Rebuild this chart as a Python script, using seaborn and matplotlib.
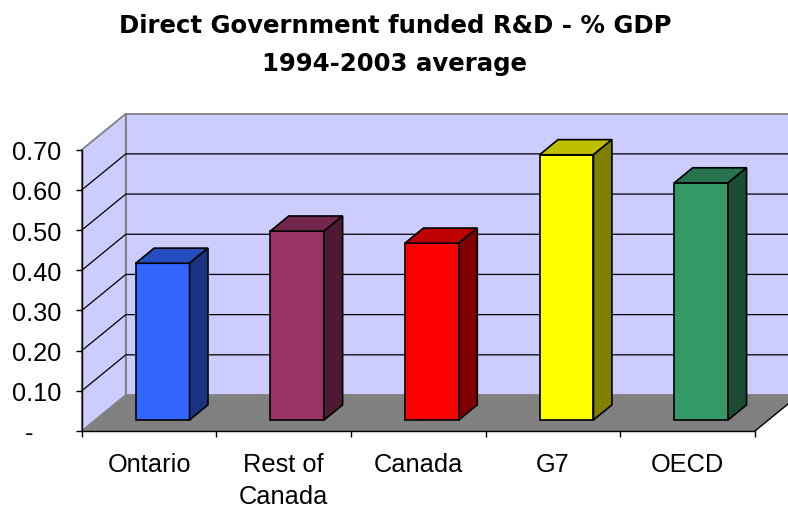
import matplotlib
matplotlib.use("Agg")
import matplotlib.pyplot as plt
from matplotlib.patches import Polygon
from matplotlib.transforms import Affine2D
from matplotlib.colors import to_rgb
import seaborn as sns
import pandas as pd

# ---- data ----
categories = ["Ontario", "Rest of\nCanada", "Canada", "G7", "OECD"]
values = [0.39, 0.47, 0.44, 0.66, 0.59]
front_colors = ["#3366FF", "#993366", "#FF0000", "#FFFF00", "#339966"]
y_ticks = [0.0, 0.1, 0.2, 0.3, 0.4, 0.5, 0.6, 0.7]
y_tick_labels = ["-    ", "0.10", "0.20", "0.30", "0.40", "0.50", "0.60", "0.70"]
title_lines = ["Direct Government funded R&D - % GDP", "1994-2003 average"]

plt.rcParams["font.family"] = ["Liberation Sans", "DejaVu Sans"]

W, H = 788, 510
fig = plt.figure(figsize=(W / 100, H / 100), dpi=100)
fig.patch.set_facecolor("white")

# front plane of the 3-D box, in pixels
left_px, right_px, base_px, top_px = 81.8, 755.0, 432.0, 150.7
ax = fig.add_axes([left_px / W, 1 - base_px / H,
                   (right_px - left_px) / W, (base_px - top_px) / H])
ax.patch.set_visible(False)

df = pd.DataFrame({"region": categories, "share": values})
sns.barplot(data=df, x="region", y="share", hue="region", palette=front_colors,
            legend=False, width=0.40, saturation=1, edgecolor="black",
            linewidth=1.2, ax=ax, zorder=5)
bars = list(ax.patches)

xmin, xmax, ymax = -0.5, 4.5, 0.7
ax.set_xlim(xmin, xmax)
ax.set_ylim(0, ymax)

# oblique depth of the box, converted to data units
px_x = (right_px - left_px) / (xmax - xmin)
px_y = (base_px - top_px) / ymax
DX = 44 / px_x
DY = 36 / px_y

wall_c = "#CCCCFF"
edge_gray = "#808080"

# back wall and left side wall
back = Polygon([(xmin + DX, DY), (xmax + DX, DY), (xmax + DX, ymax + DY),
                (xmin + DX, ymax + DY)], closed=True, fc=wall_c, ec=edge_gray,
               lw=1.3, clip_on=False, zorder=0)
side = Polygon([(xmin, 0), (xmin, ymax), (xmin + DX, ymax + DY), (xmin + DX, DY)],
               closed=True, fc=wall_c, ec=edge_gray, lw=1.3, clip_on=False, zorder=0)
ax.add_patch(back)
ax.add_patch(side)

# gridlines running along the side wall and across the back wall
for v in y_ticks[1:-1]:
    ax.plot([xmin, xmin + DX, xmax + DX], [v, v + DY, v + DY], color="black",
            lw=0.9, clip_on=False, zorder=1)

# floor
floor = Polygon([(xmin, 0), (xmax, 0), (xmax + DX, DY), (xmin + DX, DY)],
                closed=True, fc=edge_gray, ec="none", clip_on=False, zorder=2)
ax.add_patch(floor)
ax.plot([xmax, xmax + DX], [0, DY], color="black", lw=1.0, clip_on=False, zorder=3)


def shade(c, f):
    r, g, b = to_rgb(c)
    return (r * f, g * f, b * f)


# extrude each bar: front face pushed back into the box, plus top and side faces
f0 = 0.306
fb = 0.42
bx, by = fb * DX, fb * DY
shift = Affine2D().translate(f0 * DX, f0 * DY) + ax.transData
for p in bars:
    col = p.get_facecolor()[:3]
    x0, w, h = p.get_x(), p.get_width(), p.get_height()
    p.set_transform(shift)
    p.set_clip_on(False)
    top = Polygon([(x0, h), (x0 + w, h), (x0 + w + bx, h + by), (x0 + bx, h + by)],
                  closed=True, fc=shade(col, 0.75), ec="black", lw=1.2,
                  transform=shift, clip_on=False, zorder=5)
    rside = Polygon([(x0 + w, 0), (x0 + w, h), (x0 + w + bx, h + by), (x0 + w + bx, by)],
                    closed=True, fc=shade(col, 0.5), ec="black", lw=1.2,
                    transform=shift, clip_on=False, zorder=5)
    ax.add_patch(top)
    ax.add_patch(rside)

# axes lines and ticks
for s in ("top", "right"):
    ax.spines[s].set_visible(False)
for s in ("left", "bottom"):
    ax.spines[s].set_color("black")
    ax.spines[s].set_linewidth(1.0)
    ax.spines[s].set_zorder(4)

ax.set_yticks(y_ticks, labels=y_tick_labels)
ax.tick_params(axis="y", length=4, width=1, pad=10.5, labelsize=18.3,
               color="black", direction="out")
ax.set_xticks(range(len(categories)), labels=categories)
ax.tick_params(axis="x", which="major", length=0, pad=15, labelsize=18.3)
ax.set_xticks([xmin + i for i in range(len(categories) + 1)], minor=True)
ax.tick_params(axis="x", which="minor", length=4.5, width=1, color="black",
               direction="out")
for tl in ax.get_xticklabels():
    tl.set_linespacing(1.45)
ax.set_xlabel("")
ax.set_ylabel("")

# two-line title
fig.text(395 / W, 1 - 33.3 / H, title_lines[0], ha="center", va="baseline",
         fontsize=17.6, fontweight="bold", family="DejaVu Sans")
fig.text(395 / W, 1 - 71.5 / H, title_lines[1], ha="center", va="baseline",
         fontsize=17.6, fontweight="bold", family="DejaVu Sans")

fig.savefig("out.png", dpi=100)
